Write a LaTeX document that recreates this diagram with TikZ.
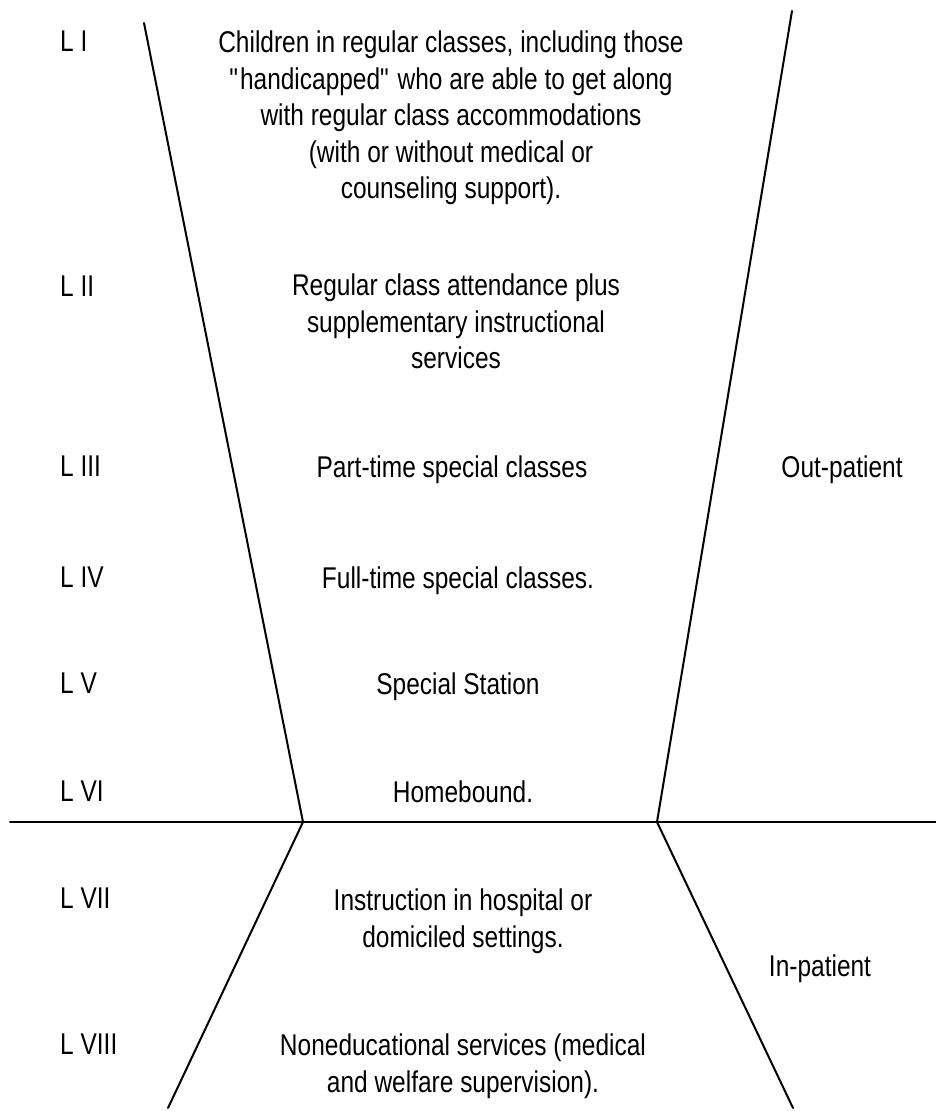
\documentclass[tikz,border=0pt]{standalone}
\usepackage{fontspec}
\setmainfont{Liberation Sans}[FakeStretch=0.816]
\usetikzlibrary{positioning}
\tikzset{
  every node/.style={font=\fontsize{30}{36.5}\selectfont, text=black, inner sep=0pt},
  lvl/.style={anchor=north west},
  desc/.style={anchor=north, align=center},
  care/.style={anchor=north},
  rule/.style={line width=2pt, line cap=round},
}

\begin{document}
\begin{tikzpicture}[x=1pt,y=-1pt]
\useasboundingbox (0,0) rectangle (936,1111);
% ---------------- frame lines
\coordinate (ltop) at (144,23);
\coordinate (lmid) at (303,822);
\coordinate (lbot) at (168,1108);
\coordinate (rtop) at (792,11);
\coordinate (rmid) at (657,822);
\coordinate (rbot) at (793,1108);
\coordinate (hl) at (10,822);
\coordinate (hr) at (936,822);
\draw[rule] (ltop) -- (lmid) -- (lbot);
\draw[rule] (rtop) -- (rmid) -- (rbot);
\draw[rule] (hl) -- (hr);

% ---------------- levels
\foreach \n/\y/\t in {1/42/L I,2/287/L II,3/467/L III,4/578/L IV,5/684/L V,6/792/L VI,7/899/L VII,8/1045/L VIII}{
  \node[lvl] (lv\n) at (60,\y-11) {\t};
}

% ---------------- services
\node[desc] (d1) at (451,31) {Children in regular classes, including those\\\textquotedbl handicapped\textquotedbl{} who are able to get along\\with regular class accommodations\\(with or without medical or\\counseling support).};
\node[desc] (d2) at (456,274) {Regular class attendance plus\\supplementary instructional\\services};
\node[desc] (d3) at (452,456) {Part-time special classes};
\node[desc] (d4) at (458,567) {Full-time special classes.};
\node[desc] (d5) at (458,673) {Special Station};
\node[desc] (d6) at (463,781) {Homebound.};
\node[desc] (d7) at (463,889) {Instruction in hospital or\\domiciled settings.};
\node[desc] (d8) at (463,1034) {Noneducational services (medical\\and welfare supervision).};

% ---------------- care type
\node[care] (out) at (842,456) {Out-patient};
\node[care] (in) at (820,955) {In-patient};
\end{tikzpicture}
\end{document}
